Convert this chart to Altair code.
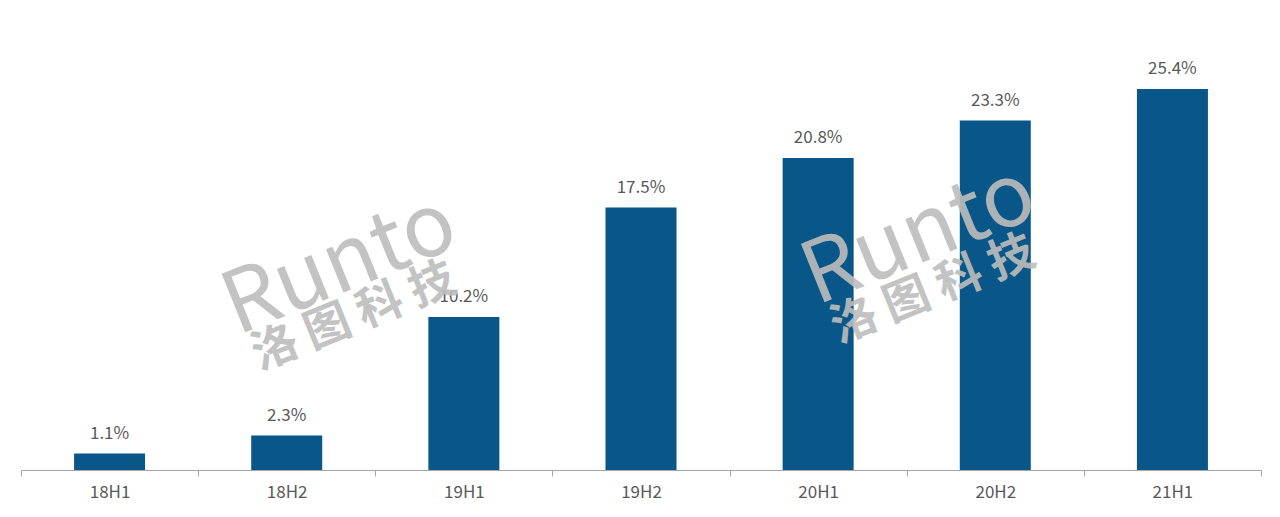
import altair as alt
import pandas as pd

categories = ["18H1", "18H2", "19H1", "19H2", "20H1", "20H2", "21H1"]
values = [1.1, 2.3, 10.2, 17.5, 20.8, 23.3, 25.4]
labels = ["1.1%", "2.3%", "10.2%", "17.5%", "20.8%", "23.3%", "25.4%"]

wm_text = ["Runto", "洛 图 科 技", "Runto", "洛 图 科 技"]
wm_x = [1.80, 1.88, 5.07, 5.15]
wm_y = [13.6, 10.2, 15.6, 12.0]
wm_size = [86, 46, 86, 46]
wm_weight = ["normal", "bold", "normal", "bold"]

df = pd.DataFrame({"cat": categories, "val": values, "lab": labels})
wm = pd.DataFrame({"t": wm_text, "x": wm_x, "y": wm_y, "s": wm_size})

yscale = alt.Scale(domain=[0, 30])
xscale = alt.Scale(domain=categories, paddingInner=0, paddingOuter=0)

bars = alt.Chart(df).mark_bar(color="#085788", width=71).encode(
    x=alt.X("cat:N", sort=categories, title=None, scale=xscale,
            axis=alt.Axis(labelAngle=0, labelFontSize=17, labelColor="#595959",
                          labelFont="Noto Sans CJK SC", domainColor="#a6a6a6",
                          tickColor="#a6a6a6", tickSize=6, labelPadding=8,
                          tickBand="extent", grid=False)),
    y=alt.Y("val:Q", scale=yscale, axis=None),
)

text = alt.Chart(df).mark_text(dy=-20, fontSize=17, color="#595959",
                               font="Noto Sans CJK SC").encode(
    x=alt.X("cat:N", sort=categories, scale=xscale, axis=None),
    y=alt.Y("val:Q", scale=yscale, axis=None),
    text="lab:N",
)

wm_layers = []
for i in range(len(wm_text)):
    wm_layers.append(
        alt.Chart(wm.iloc[[i]]).mark_text(
            angle=338, color="#bdbdbd", opacity=0.9, font="Noto Sans CJK SC",
            fontWeight=wm_weight[i], fontSize=wm_size[i]).encode(
            x=alt.X("x:Q", scale=alt.Scale(domain=[0, 7]), axis=None),
            y=alt.Y("y:Q", scale=yscale, axis=None),
            text="t:N",
        )
    )

chart = alt.layer(bars, text, *wm_layers).resolve_scale(x="independent").properties(
    width=1240, height=450,
    padding={"left": 12, "top": 12, "right": 0, "bottom": 14},
).configure_view(stroke=None)

chart.save("out.html", embed_options={"renderer": "svg", "actions": False})
